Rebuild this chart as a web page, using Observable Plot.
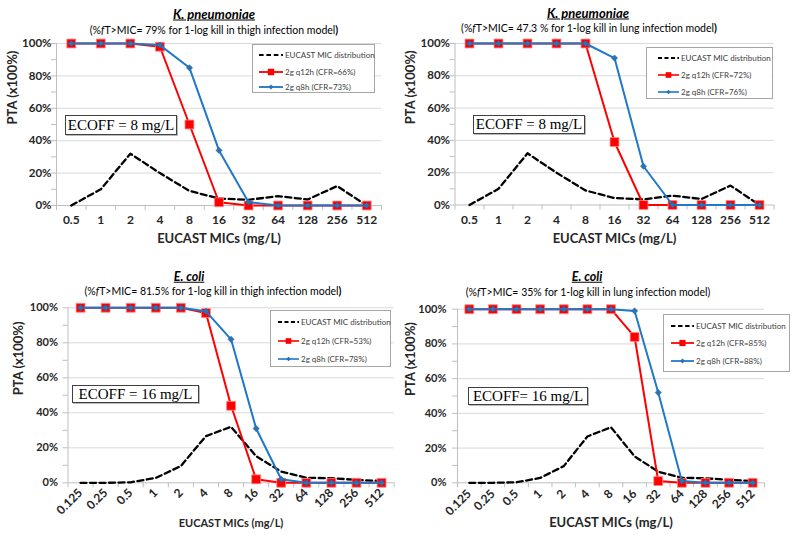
<!DOCTYPE html>
<html><head><meta charset="utf-8">
<script src="https://cdn.jsdelivr.net/npm/d3@7"></script>
<script src="https://cdn.jsdelivr.net/npm/@observablehq/plot@0.6"></script>
<style>
body{margin:0;background:#fff;}
#root{position:relative;width:799px;height:535px;overflow:hidden;font-family:Lato,"Open Sans",sans-serif;color:#000;}
.t{position:absolute;white-space:nowrap;line-height:1;transform:translate(-50%,-50%);}
.title{font-weight:bold;font-style:italic;text-decoration:underline;font-size:13px;}
.sub{font-size:10.5px;}
.ecoff{position:absolute;border:1px solid #404040;background:#fff;box-shadow:1px 1px 0 #bbb;font-family:"Liberation Serif","Times New Roman",serif;font-size:15px;display:flex;align-items:center;justify-content:center;box-sizing:border-box;white-space:nowrap;}
.legend{position:absolute;border:1px solid #a6a6a6;background:#fff;box-sizing:border-box;}
.legend .row{position:absolute;left:0;right:0;height:0;}
.legend svg{position:absolute;top:-5px;}
.legend span{position:absolute;transform:translateY(-50%);font-size:8px;color:#404040;white-space:nowrap;line-height:1;}
.plot{position:absolute;}
</style></head><body><div id="root"></div>
<script>
// ---- data ----
const micsKp = ["0.5","1","2","4","8","16","32","64","128","256","512"];
const micsEc = ["0.125","0.25","0.5","1","2","4","8","16","32","64","128","256","512"];
const eucastKp = [0, 10, 32, 20, 9, 4.3, 3.5, 5.8, 3.7, 12, 0];
const eucastEc = [0, 0, 0.3, 2.8, 9.6, 26.7, 32, 15.2, 6.4, 2.9, 2.6, 1.7, 1];
const kpThighQ12 = [100, 100, 100, 98, 50, 2, 0, 0, 0, 0, 0];
const kpThighQ8  = [100, 100, 100, 99, 85, 34, 2, 0, 0, 0, 0];
const kpLungQ12  = [100, 100, 100, 100, 100, 39, 0, 0, 0, 0, 0];
const kpLungQ8   = [100, 100, 100, 100, 100, 91, 24, 0, 0, 0, 0];
const ecThighQ12 = [100, 100, 100, 100, 100, 97, 44, 2, 0, 0, 0, 0, 0];
const ecThighQ8  = [100, 100, 100, 100, 100, 98, 82, 31, 2, 0, 0, 0, 0];
const ecLungQ12  = [100, 100, 100, 100, 100, 100, 100, 84, 1, 0, 0, 0, 0];
const ecLungQ8   = [100, 100, 100, 100, 100, 100, 100, 99, 52, 1, 0, 0, 0];
const yTicks = [0, 20, 40, 60, 80, 100];
const yMinorTicks = [0, 10, 20, 30, 40, 50, 60, 70, 80, 90, 100];
const titles = ["K. pneumoniae", "K. pneumoniae", "E. coli", "E. coli"];
const subtitles = [
  '(%<i>f</i>T&gt;MIC= 79% for 1-log kill in thigh infection model<b>)</b>',
  '(%<i>f</i>T&gt;MIC= 47.3 % for 1-log kill in lung infection model<b>)</b>',
  '(%<i>f</i>T&gt;MIC= 81.5% for 1-log kill in thigh infection model<b>)</b>',
  '(%<i>f</i>T&gt;MIC= 35% for 1-log kill in lung infection model)'
];
const ecoffLabels = ["ECOFF = 8 mg/L", "ECOFF = 8 mg/L", "ECOFF = 16 mg/L", "ECOFF= 16 mg/L"];
const legendEucast = "EUCAST MIC distribution";
const legendQ12 = ["2g q12h (CFR=66%)", "2g q12h (CFR=72%)", "2g q12h (CFR=53%)", "2g q12h (CFR=85%)"];
const legendQ8  = ["2g q8h (CFR=73%)", "2g q8h (CFR=76%)", "2g q8h (CFR=78%)", "2g q8h (CFR=88%)"];
const yTitle = "PTA (x100%)";
const xTitle = "EUCAST MICs (mg/L)";

const RED = "#ff0000", BLUE = "#1f78c8", BLUEDOT = "#2b73b8";

// ---- layout (page px) ----
const panels = [
  {cats: micsKp, eu: eucastKp, q12: kpThighQ12, q8: kpThighQ8,
   left: 0, top: 36, width: 399, height: 214, ml: 56, mr: 18, mt: 7, mb: 45,
   rot: 0, xPad: 10, yPad: 5, yFs: 11.5, xFs: 12, yTdx: -44, xTdy: 33, xTFs: 13, yTFs: 13,
   title: [214, 14], sub: [214, 30], tFs: 13,
   ecoff: [65, 115, 112, 20],
   legend: [252, 44, 123, 49, [10, 27, 42], 6, 30, 32]},
  {cats: micsKp, eu: eucastKp, q12: kpLungQ12, q8: kpLungQ8,
   left: 399, top: 36, width: 400, height: 214, ml: 55.5, mr: 25.5, mt: 7, mb: 45.5,
   rot: 0, xPad: 10, yPad: 5, yFs: 11.5, xFs: 12, yTdx: -44.5, xTdy: 33.5, xTFs: 13, yTFs: 13,
   title: [588, 13], sub: [589, 28], tFs: 13,
   ecoff: [473, 115, 112, 19],
   legend: [646, 47, 127, 52, [10, 27, 44], 11, 32, 34]},
  {cats: micsEc, eu: eucastEc, q12: ecThighQ12, q8: ecThighQ8,
   left: 0, top: 298, width: 399, height: 237, ml: 67.5, mr: 5.4, mt: 9.3, mb: 52.7,
   rot: -45, xPad: 8, yPad: 10, yFs: 11, xFs: 12, yTdx: -49.5, xTdy: 41, xTFs: 11, yTFs: 13,
   title: [189, 276.5], sub: [213, 291], tFs: 12.5,
   ecoff: [72, 385, 127, 18],
   legend: [270, 310, 121, 57, [11, 30, 48], 7, 28, 30]},
  {cats: micsEc, eu: eucastEc, q12: ecLungQ12, q8: ecLungQ8,
   left: 399, top: 298, width: 400, height: 237, ml: 58, mr: 35, mt: 10.7, mb: 52.7,
   rot: -45, xPad: 9, yPad: 11, yFs: 11, xFs: 12, yTdx: -47, xTdy: 40, xTFs: 13, yTFs: 13,
   title: [587, 277], sub: [588, 292], tFs: 12.5,
   ecoff: [468, 387, 120, 18],
   legend: [663, 314, 127, 58, [11, 28, 46], 7, 30, 32]}
];

const root = document.getElementById("root");

function addText(cls, x, y, html, fs) {
  const d = document.createElement("div");
  d.className = "t " + cls;
  d.style.left = x + "px";
  d.style.top = y + "px";
  if (fs) d.style.fontSize = fs + "px";
  d.innerHTML = html;
  root.appendChild(d);
}

function legendSample(kind) {
  const ns = "http://www.w3.org/2000/svg";
  const w = 26;
  let s = `<svg xmlns="${ns}" width="${w}" height="10" viewBox="0 0 ${w} 10">`;
  if (kind === "eu") s += `<line x1="0" y1="5" x2="${w}" y2="5" stroke="#000" stroke-width="2.2" stroke-dasharray="5,3"/>`;
  if (kind === "q12") s += `<line x1="0" y1="5" x2="${w}" y2="5" stroke="${RED}" stroke-width="2"/><rect x="${w/2-3.5}" y="1.5" width="7" height="7" fill="${RED}"/>`;
  if (kind === "q8") s += `<line x1="0" y1="5" x2="${w}" y2="5" stroke="${BLUE}" stroke-width="2"/><path d="M${w/2},2.2L${w/2+2.8},5L${w/2},7.8L${w/2-2.8},5Z" fill="${BLUEDOT}"/>`;
  return s + "</svg>";
}

panels.forEach((p, k) => {
  const n = p.cats.length;
  const rows = p.cats.map((c, i) => ({i, c, eu: p.eu[i], q12: p.q12[i], q8: p.q8[i]}));
  const idx = d3.range(n);
  const bounds = d3.range(n + 1).map(i => i - 0.5);
  const chart = Plot.plot({
    width: p.width, height: p.height,
    marginLeft: p.ml, marginRight: p.mr, marginTop: p.mt, marginBottom: p.mb,
    style: {fontFamily: "Lato, 'Open Sans', sans-serif", background: "transparent", overflow: "visible"},
    x: {domain: [-0.5, n - 0.5], label: null},
    y: {domain: [0, 100], label: null},
    marks: [
      Plot.ruleY(yTicks.filter(d => d > 0), {stroke: "#d9d9d9", strokeWidth: 1}),
      Plot.axisY({ticks: yMinorTicks, tickSize: 5, tickFormat: () => "", stroke: "#bfbfbf", label: null}),
      Plot.axisY({ticks: yTicks, tickSize: 0, tickPadding: p.yPad, tickFormat: d => d + "%",
                  fontSize: p.yFs, fontWeight: "bold", fill: "#262626", label: null}),
      Plot.ruleX([-0.5], {y1: 0, y2: 100, stroke: "#bfbfbf"}),
      Plot.ruleY([0], {stroke: "#bfbfbf"}),
      Plot.axisX({ticks: bounds, tickSize: 5, tickFormat: () => "", stroke: "#bfbfbf", label: null}),
      Plot.axisX({ticks: idx, tickSize: 0, tickPadding: p.xPad, tickRotate: p.rot,
                  tickFormat: i => p.cats[i], fontSize: p.xFs, fontWeight: "bold", fill: "#262626", label: null}),
      Plot.line(rows, {x: "i", y: "eu", stroke: "#000", strokeWidth: 2.3, strokeDasharray: "6,3.5"}),
      Plot.line(rows, {x: "i", y: "q12", stroke: RED, strokeWidth: 2}),
      Plot.dot(rows, {x: "i", y: "q12", symbol: "square", r: 5, fill: RED, stroke: "#ff8080", strokeWidth: 0.8}),
      Plot.line(rows, {x: "i", y: "q8", stroke: BLUE, strokeWidth: 2}),
      Plot.dot(rows, {x: "i", y: "q8", symbol: "diamond2", r: 2.8, fill: BLUEDOT, stroke: "#1d5c99", strokeWidth: 0.5}),
      Plot.text([xTitle], {text: d => d, frameAnchor: "bottom", dy: p.xTdy, lineAnchor: "middle",
                           fontSize: p.xTFs, fontWeight: "bold", fill: "#262626"}),
      Plot.text([yTitle], {text: d => d, frameAnchor: "left", dx: p.yTdx, rotate: -90, lineAnchor: "middle",
                           fontSize: p.yTFs, fontWeight: "bold", fill: "#262626"})
    ]
  });
  chart.classList.add("plot");
  chart.style.left = p.left + "px";
  chart.style.top = p.top + "px";
  root.appendChild(chart);

  addText("title", p.title[0], p.title[1], titles[k], p.tFs);
  addText("sub", p.sub[0], p.sub[1], subtitles[k]);

  const e = document.createElement("div");
  e.className = "ecoff";
  e.style.left = p.ecoff[0] + "px"; e.style.top = p.ecoff[1] + "px";
  e.style.width = p.ecoff[2] + "px"; e.style.height = p.ecoff[3] + "px";
  e.textContent = ecoffLabels[k];
  root.appendChild(e);

  const [lx, ly, lw, lh, rowsY, sx, sx2, tx] = p.legend;
  const lg = document.createElement("div");
  lg.className = "legend";
  lg.style.left = lx + "px"; lg.style.top = ly + "px";
  lg.style.width = lw + "px"; lg.style.height = lh + "px";
  const items = [["eu", legendEucast], ["q12", legendQ12[k]], ["q8", legendQ8[k]]];
  items.forEach(([kind, label], j) => {
    const r = document.createElement("div");
    r.className = "row";
    r.style.top = rowsY[j] + "px";
    r.innerHTML = legendSample(kind) + `<span>${label}</span>`;
    r.querySelector("svg").style.left = sx + "px";
    r.querySelector("svg").setAttribute("width", sx2 - sx);
    r.querySelector("span").style.left = tx + "px";
    lg.appendChild(r);
  });
  root.appendChild(lg);
});
</script>
</body></html>
